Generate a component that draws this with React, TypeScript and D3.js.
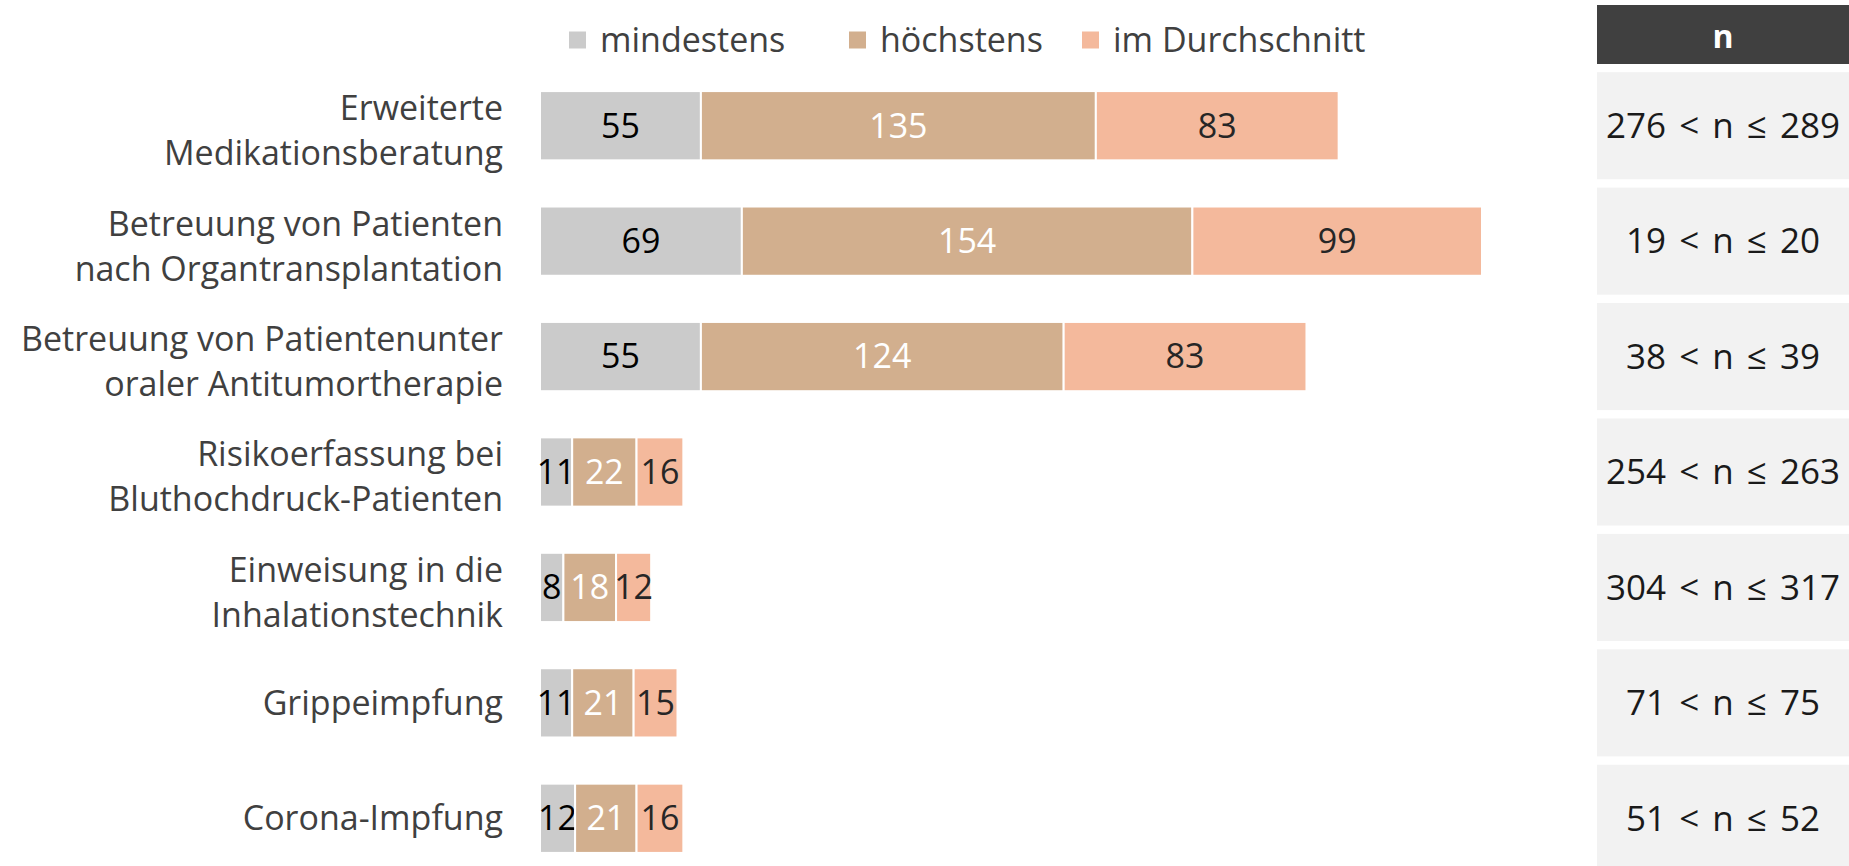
import React from "react";
import * as d3 from "d3";

const categories = [
  ["Erweiterte", "Medikationsberatung"],
  ["Betreuung von Patienten", "nach Organtransplantation"],
  ["Betreuung von Patientenunter", "oraler Antitumortherapie"],
  ["Risikoerfassung bei", "Bluthochdruck-Patienten"],
  ["Einweisung in die", "Inhalationstechnik"],
  ["Grippeimpfung"],
  ["Corona-Impfung"],
];
const mindestens = [55, 69, 55, 11, 8, 11, 12];
const hoechstens = [135, 154, 124, 22, 18, 21, 21];
const durchschnitt = [83, 99, 83, 16, 12, 15, 16];
const nLabels = [
  "276 < n ≤ 289",
  "19 < n ≤ 20",
  "38 < n ≤ 39",
  "254 < n ≤ 263",
  "304 < n ≤ 317",
  "71 < n ≤ 75",
  "51 < n ≤ 52",
];

const seriesNames = ["mindestens", "höchstens", "im Durchschnitt"];
const keys = ["min", "max", "avg"];
const colors = ["#cbcbcb", "#d2af8e", "#f4b99c"];
const labelColors = ["#000000", "#ffffff", "#262626"];

const W = 1849;
const H = 866;
const FONT = "'Open Sans', sans-serif";

export default function App() {
  const rows = categories.map((c, i) => ({
    id: String(i),
    min: mindestens[i],
    max: hoechstens[i],
    avg: durchschnitt[i],
  }));
  const stacked = d3.stack().keys(keys)(rows as any);
  const maxTotal = d3.max(rows, (d) => d.min + d.max + d.avg) || 1;

  const x = d3.scaleLinear().domain([0, maxTotal]).range([540, 1482]);
  const y = d3
    .scaleBand()
    .domain(rows.map((d) => d.id))
    .range([68, 876])
    .paddingInner(0.4)
    .paddingOuter(0.2);

  const cellX = 1597;
  const cellH = 107;

  return (
    <div style={{ position: "absolute", left: 0, top: 0 }}>
      <svg width={W} height={H} style={{ display: "block", fontFamily: FONT }}>
        {/* legend */}
        {seriesNames.map((name, i) => {
          const lx = [569, 849, 1082][i];
          return (
            <g key={name} transform={`translate(${lx},40)`}>
              <rect x={0} y={-8.5} width={17} height={17} fill={colors[i]} />
              <text x={31} y={0} dy="0.35em" fontSize={34} fill="#404040">
                {name}
              </text>
            </g>
          );
        })}

        {/* bars */}
        {stacked.map((s, si) =>
          s.map((d, i) => {
            const x0 = x(d[0]);
            const x1 = x(d[1]);
            const yy = y(String(i))!;
            return (
              <g key={`${si}-${i}`}>
                <rect
                  x={x0}
                  y={yy}
                  width={x1 - x0}
                  height={y.bandwidth()}
                  fill={colors[si]}
                  stroke="#ffffff"
                  strokeWidth={2}
                />
                <text
                  x={(x0 + x1) / 2}
                  y={yy + y.bandwidth() / 2}
                  dy="0.35em"
                  textAnchor="middle"
                  fontSize={34}
                  fill={labelColors[si]}
                >
                  {d[1] - d[0]}
                </text>
              </g>
            );
          })
        )}

        {/* category labels */}
        {categories.map((lines, i) => {
          const cy = y(String(i))! + y.bandwidth() / 2;
          const start =
            cy - ((lines.length - 1) * 45) / 2 + (lines.length > 1 ? 5 : 0);
          return (
            <text
              key={i}
              x={503}
              textAnchor="end"
              fontSize={34}
              fill="#404040"
            >
              {lines.map((l, j) => (
                <tspan key={j} x={503} y={start + j * 45} dy="0.35em">
                  {l}
                </tspan>
              ))}
            </text>
          );
        })}

        {/* n table */}
        <rect x={cellX} y={5} width={W - cellX} height={59} fill="#404040" />
        <text
          x={(cellX + W) / 2}
          y={37}
          dy="0.35em"
          textAnchor="middle"
          fontSize={32}
          fontWeight="bold"
          fill="#ffffff"
        >
          n
        </text>
        {nLabels.map((t, i) => {
          const cy = y(String(i))! + y.bandwidth() / 2;
          return (
            <g key={t}>
              <rect
                x={cellX}
                y={cy - cellH / 2}
                width={W - cellX}
                height={cellH}
                fill="#f2f2f2"
              />
              <text
                x={(cellX + W) / 2}
                y={cy}
                dy="0.35em"
                textAnchor="middle"
                fontSize={35}
                wordSpacing={4}
                fill="#1a1a1a"
              >
                {t}
              </text>
            </g>
          );
        })}
      </svg>
    </div>
  );
}
